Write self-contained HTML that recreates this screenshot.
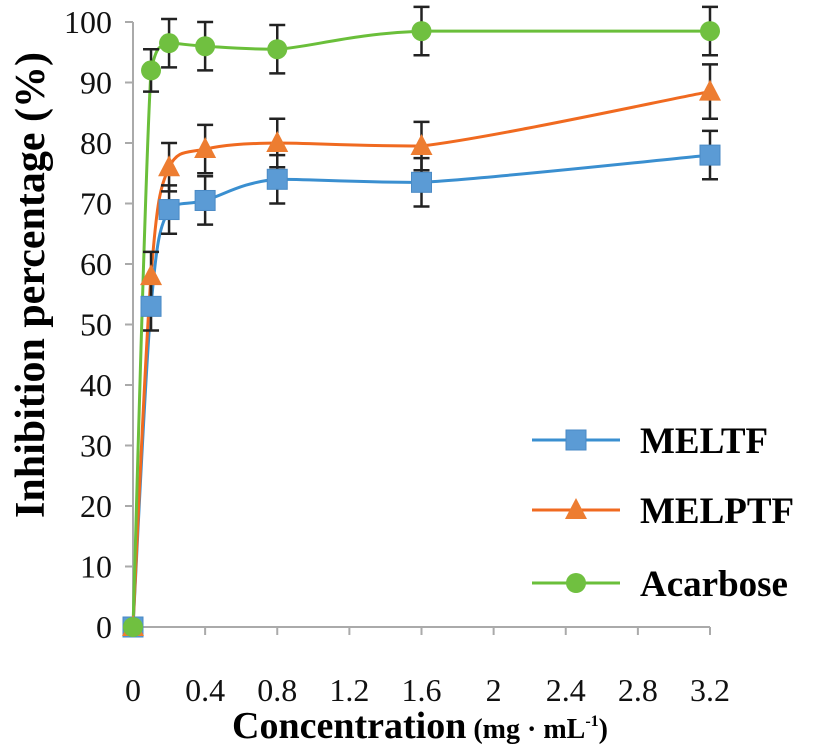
<!DOCTYPE html>
<html><head><meta charset="utf-8"><style>
body{margin:0;background:#fff}
svg text{font-family:"Liberation Serif",serif}
</style></head><body>
<svg id="c" width="822" height="746" xmlns="http://www.w3.org/2000/svg"></svg>
<script>
const xs=[0,0.1,0.2,0.4,0.8,1.6,3.2];
const meltf=[0,53,69,70.5,74,73.5,78];
const meltfErr=[0,4,4,4,4,4,4];
const melptf=[0,58,76,79,80,79.5,88.5];
const melptfErr=[0,4,4,4,4,4,4.5];
const acarbose=[0,92,96.5,96,95.5,98.5,98.5];
const acarboseErr=[0,3.5,4,4,4,4,4];
const xTicks=[0,0.4,0.8,1.2,1.6,2,2.4,2.8,3.2];
const xTickLabels=["0","0.4","0.8","1.2","1.6","2","2.4","2.8","3.2"];
const yTicks=[0,10,20,30,40,50,60,70,80,90,100];
const legendNames=["MELTF","MELPTF","Acarbose"];
const NS="http://www.w3.org/2000/svg",svg=document.getElementById('c');
const X=v=>133+v/3.2*577, Y=v=>627-v*6.05;
function el(t,a,p){const e=document.createElementNS(NS,t);for(const k in a)e.setAttribute(k,a[k]);(p||svg).appendChild(e);return e;}
let ax=el('line',{x1:X(0),y1:Y(0),x2:X(3.2),y2:Y(0),stroke:'#aaa','stroke-width':2});

let ay=el('line',{x1:X(0),y1:Y(0),x2:X(0),y2:Y(100),stroke:'#aaa','stroke-width':2});

xTicks.forEach((v,i)=>{
 el('line',{x1:X(v),y1:Y(0),x2:X(v),y2:Y(0)+8,stroke:'#aaa','stroke-width':2});
 const t=el('text',{x:X(v),y:701,'text-anchor':'middle','font-size':32,fill:'#111'});t.textContent=xTickLabels[i];
 
});
yTicks.forEach(v=>{
 el('line',{x1:X(0)-8,y1:Y(v),x2:X(0),y2:Y(v),stroke:'#aaa','stroke-width':2});
 const t=el('text',{x:112,y:Y(v)+11,'text-anchor':'end','font-size':32,fill:'#111'});t.textContent=v;
 
});
let xt=el('text',{x:420,y:738,'text-anchor':'middle','font-size':38,'font-weight':'bold'});
xt.innerHTML='Concentration<tspan font-size="28"> (mg · mL</tspan><tspan font-size="16" dy="-12">-1</tspan><tspan font-size="28" dy="12">)</tspan>';

let yt=el('text',{x:0,y:0,'text-anchor':'middle','font-size':42,'font-weight':'bold',transform:'translate(44,285) rotate(-90)'});
yt.textContent='Inhibition percentage (%)';

function path(vals){const p=xs.map((x,i)=>[X(x),Y(vals[i])]);let d='M'+p[0];
 const cl=(v,a,b)=>Math.max(Math.min(a,b),Math.min(Math.max(a,b),v));
 for(let i=0;i<p.length-1;i++){const p0=p[i-1]||p[i],p1=p[i],p2=p[i+1],p3=p[i+2]||p2;const k=6;
 const c1y=cl(p1[1]+(p2[1]-p0[1])/k,p1[1],p2[1]),c2y=cl(p2[1]-(p3[1]-p1[1])/k,p1[1],p2[1]);
 d+=`C${p1[0]+(p2[0]-p0[0])/k},${c1y} ${p2[0]-(p3[0]-p1[0])/k},${c2y} ${p2[0]},${p2[1]}`;}return d;}
function marker(shape,x,y,col,name){let m;
 if(shape==='sq')m=el('rect',{x:x-10,y:y-10,width:20,height:20,fill:'#5b9bd5',stroke:'#4a8ac5'});
 else if(shape==='tri')m=el('polygon',{points:`${x},${y-12} ${x-11},${y+9} ${x+11},${y+9}`,fill:'#ed7d31'});
 else m=el('circle',{cx:x,cy:y,r:10,fill:'#70c040'});
 }
const series=[[meltf,meltfErr,'#3a8fd0','sq','meltf'],[melptf,melptfErr,'#f06a20','tri','melptf'],[acarbose,acarboseErr,'#6abf3a','ci','acarbose']];
series.forEach(([v,e,c,s,n])=>{
 const l=el('path',{d:path(v),fill:'none',stroke:c,'stroke-width':3});
 
});
series.forEach(([v,e,c,s,n])=>{
 xs.forEach((x,i)=>{
  if(e[i]>0){const g=el('path',{d:`M${X(x)},${Y(v[i]+e[i])}V${Y(v[i]-e[i])}M${X(x)-8},${Y(v[i]+e[i])}h16M${X(x)-8},${Y(v[i]-e[i])}h16`,stroke:'#222','stroke-width':2.5,fill:'none'});
   }
 });
});
series.forEach(([v,e,c,s,n])=>{xs.forEach((x,i)=>marker(s,X(x),Y(v[i]),c,n+'-point'));});
[[440,0],[510,1],[583,2]].forEach(([y,i])=>{
 const [v,e,c,s,n]=series[i];
 const l=el('line',{x1:532,y1:y,x2:620,y2:y,stroke:c,'stroke-width':3});
 
 marker(s,576,y,c,'legend-marker');
 const t=el('text',{x:640,y:y+13,'font-size':37,'font-weight':'bold'});t.textContent=legendNames[i];
 
});
</script>
</body></html>
